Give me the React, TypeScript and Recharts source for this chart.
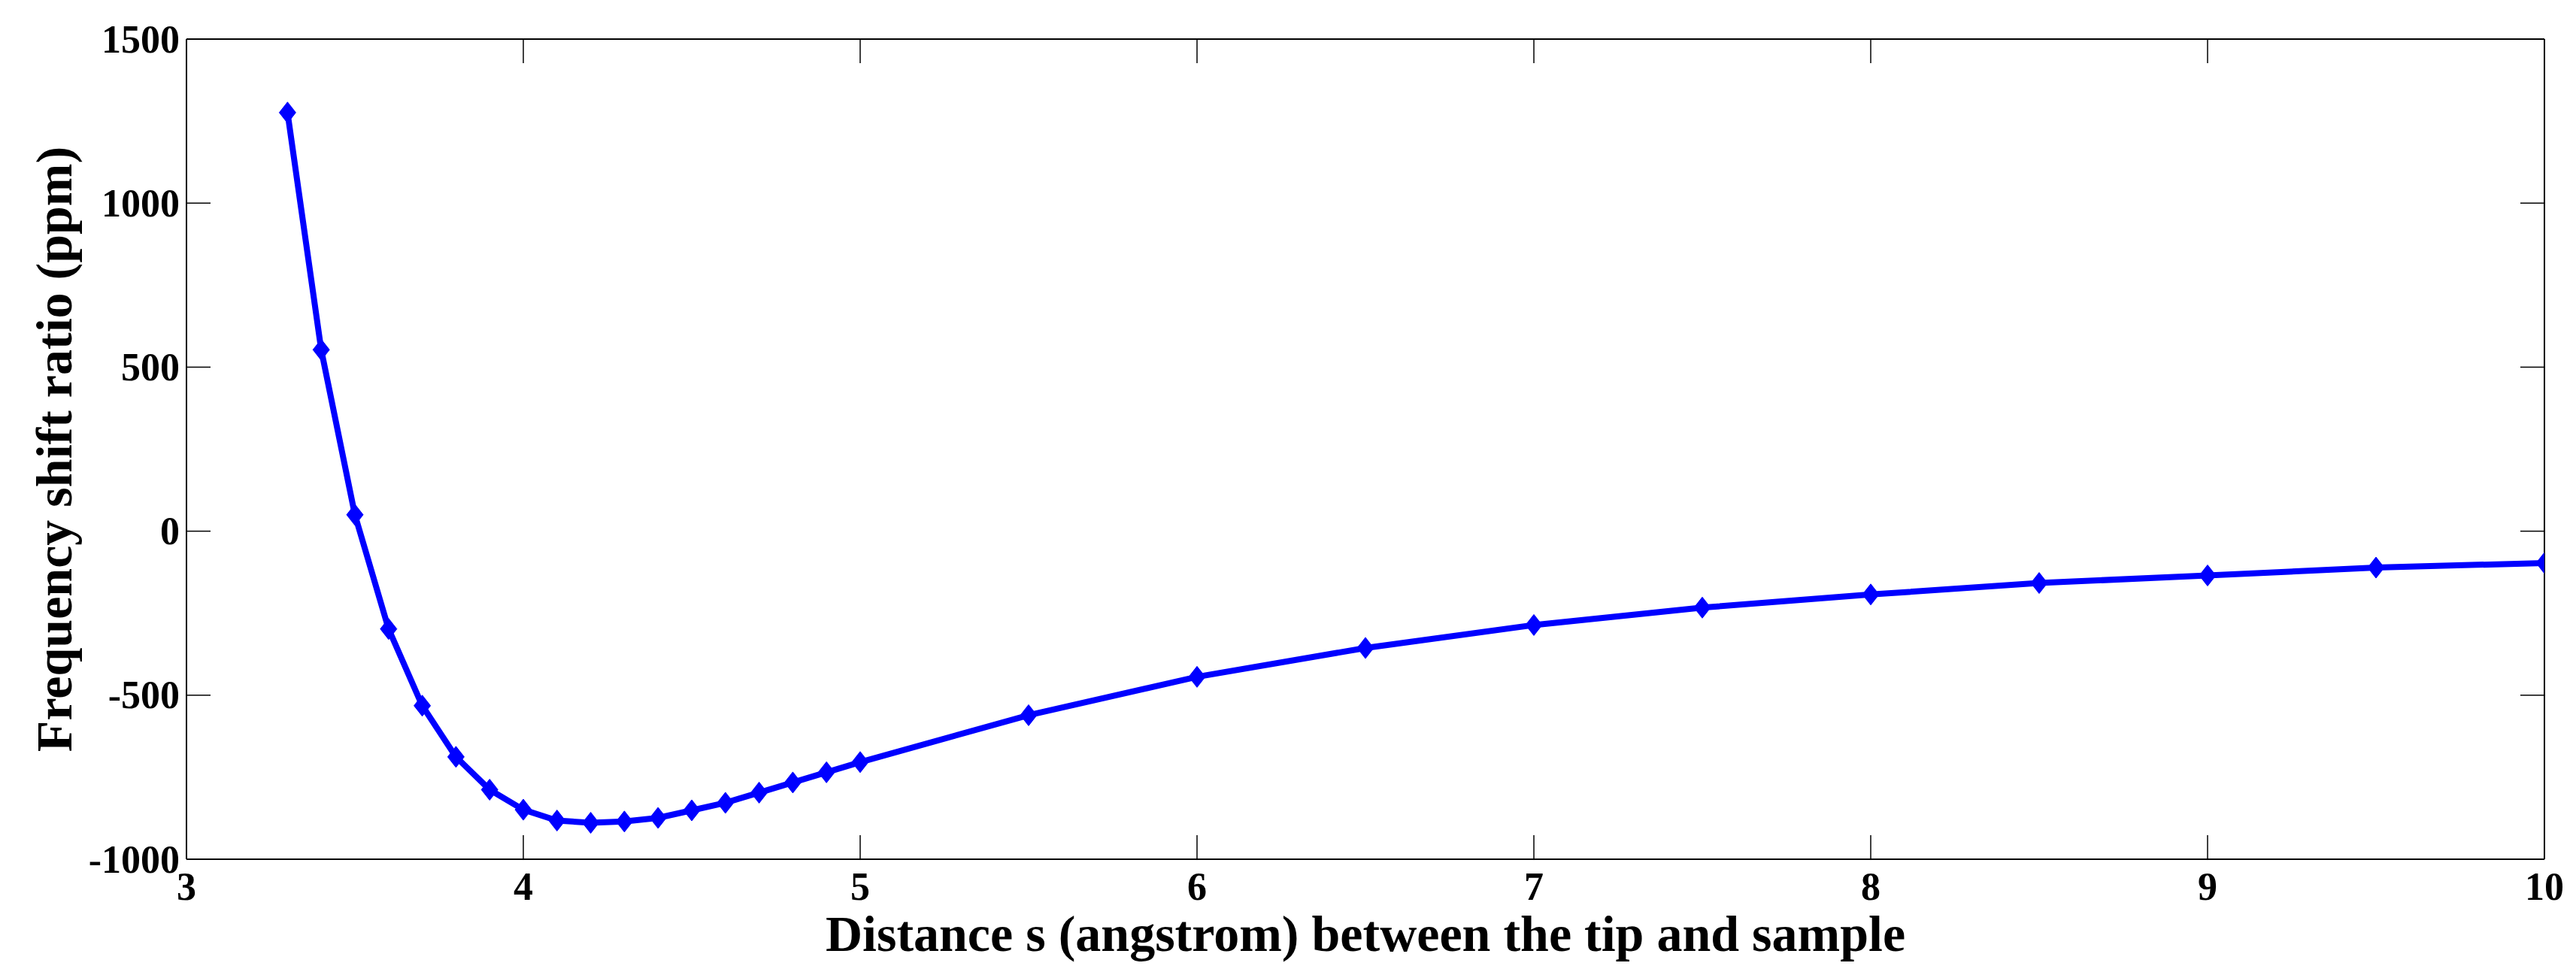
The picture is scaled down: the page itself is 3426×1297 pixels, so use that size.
import React from 'react';
import { LineChart, Line, XAxis, YAxis, Label } from 'recharts';

// distance s (angstrom)
const distance = [
  3.3, 3.4, 3.5, 3.6, 3.7, 3.8, 3.9, 4.0, 4.1, 4.2, 4.3, 4.4, 4.5, 4.6, 4.7, 4.8, 4.9, 5.0,
  5.5, 6.0, 6.5, 7.0, 7.5, 8.0, 8.5, 9.0, 9.5, 10.0,
];
// frequency shift ratio (ppm)
const shift = [
  1276, 553, 50, -298, -532, -688, -788, -849, -882, -889, -885, -874, -851, -828, -797, -766, -735, -704,
  -561, -444, -356, -286, -233, -193, -158, -135, -111, -97,
];
const xTicks = [3, 4, 5, 6, 7, 8, 9, 10];
const yTicks = [-1000, -500, 0, 500, 1000, 1500];

const data = distance.map((d, i) => ({ s: d, f: shift[i] }));

const FONT = '"Liberation Serif", "Times New Roman", serif';
const TICK_LEN = 32;
const BLUE = '#0000FF';

const BottomTick = (props: any) => {
  const { x, y, payload } = props;
  return (
    <g>
      <line x1={x} y1={y} x2={x} y2={y - TICK_LEN} stroke="#000" strokeWidth={1.5} />
      <text x={x} y={y + 54} textAnchor="middle" fontFamily={FONT} fontWeight="bold" fontSize={52} fill="#000">
        {payload.value}
      </text>
    </g>
  );
};

const LeftTick = (props: any) => {
  const { x, y, payload } = props;
  return (
    <g>
      <line x1={x} y1={y} x2={x + TICK_LEN} y2={y} stroke="#000" strokeWidth={1.5} />
      <text x={x - 9} y={y} dy="0.34em" textAnchor="end" fontFamily={FONT} fontWeight="bold" fontSize={52} fill="#000">
        {payload.value}
      </text>
    </g>
  );
};

const TopTick = (props: any) => {
  const { x, y } = props;
  return <line x1={x} y1={y} x2={x} y2={y + TICK_LEN} stroke="#000" strokeWidth={1.5} />;
};

const RightTick = (props: any) => {
  const { x, y } = props;
  return <line x1={x} y1={y} x2={x - TICK_LEN} y2={y} stroke="#000" strokeWidth={1.5} />;
};

const Diamond = (props: any) => {
  const { cx, cy } = props;
  if (cx == null || cy == null) return null;
  return (
    <path
      d={`M${cx},${cy - 14} L${cx + 11},${cy} L${cx},${cy + 14} L${cx - 11},${cy} Z`}
      fill={BLUE}
      stroke={BLUE}
      strokeWidth={1}
    />
  );
};

const App = () => {
  return (
    <div style={{ position: 'absolute', left: 0, top: 0, background: '#fff' }}>
      <LineChart
        width={3426}
        height={1297}
        data={data}
        margin={{ top: 51, right: 41, left: 247, bottom: 153 }}
      >
        <XAxis
          dataKey="s"
          type="number"
          domain={[3, 10]}
          ticks={xTicks}
          allowDataOverflow
          height={1}
          tickSize={0}
          tickMargin={0}
          tickLine={false}
          tick={<BottomTick />}
          stroke="#000"
          strokeWidth={2}
        >
          <Label
            value="Distance s (angstrom) between the tip and sample"
            position="bottom"
            offset={73}
            style={{ fontFamily: FONT, fontWeight: 'bold', fontSize: 68, fill: '#000' }}
          />
        </XAxis>
        <XAxis
          xAxisId="top"
          orientation="top"
          dataKey="s"
          type="number"
          domain={[3, 10]}
          ticks={xTicks}
          allowDataOverflow
          height={1}
          tickSize={0}
          tickMargin={0}
          tickLine={false}
          tick={<TopTick />}
          stroke="#000"
          strokeWidth={2}
        />
        <YAxis
          type="number"
          domain={[-1000, 1500]}
          ticks={yTicks}
          allowDataOverflow
          width={1}
          tickSize={0}
          tickMargin={0}
          tickLine={false}
          tick={<LeftTick />}
          stroke="#000"
          strokeWidth={2}
        >
          <Label
            content={(p: any) => {
              const vb = p.viewBox || {};
              const cx = (vb.x ?? 247) - 175;
              const cy = (vb.y ?? 52) + (vb.height ?? 1091) / 2;
              return (
                <text
                  x={cx}
                  y={cy}
                  transform={`rotate(-90, ${cx}, ${cy})`}
                  textAnchor="middle"
                  dy="0.34em"
                  fontFamily={FONT}
                  fontWeight="bold"
                  fontSize={68}
                  fill="#000"
                >
                  Frequency shift ratio (ppm)
                </text>
              );
            }}
          />
        </YAxis>
        <YAxis
          yAxisId="right"
          orientation="right"
          type="number"
          domain={[-1000, 1500]}
          ticks={yTicks}
          allowDataOverflow
          width={1}
          tickSize={0}
          tickMargin={0}
          tickLine={false}
          tick={<RightTick />}
          stroke="#000"
          strokeWidth={2}
        />
        <Line
          type="linear"
          dataKey="f"
          stroke={BLUE}
          strokeWidth={8}
          dot={<Diamond />}
          activeDot={false}
          isAnimationActive={false}
        />
      </LineChart>
    </div>
  );
};

export default App;
